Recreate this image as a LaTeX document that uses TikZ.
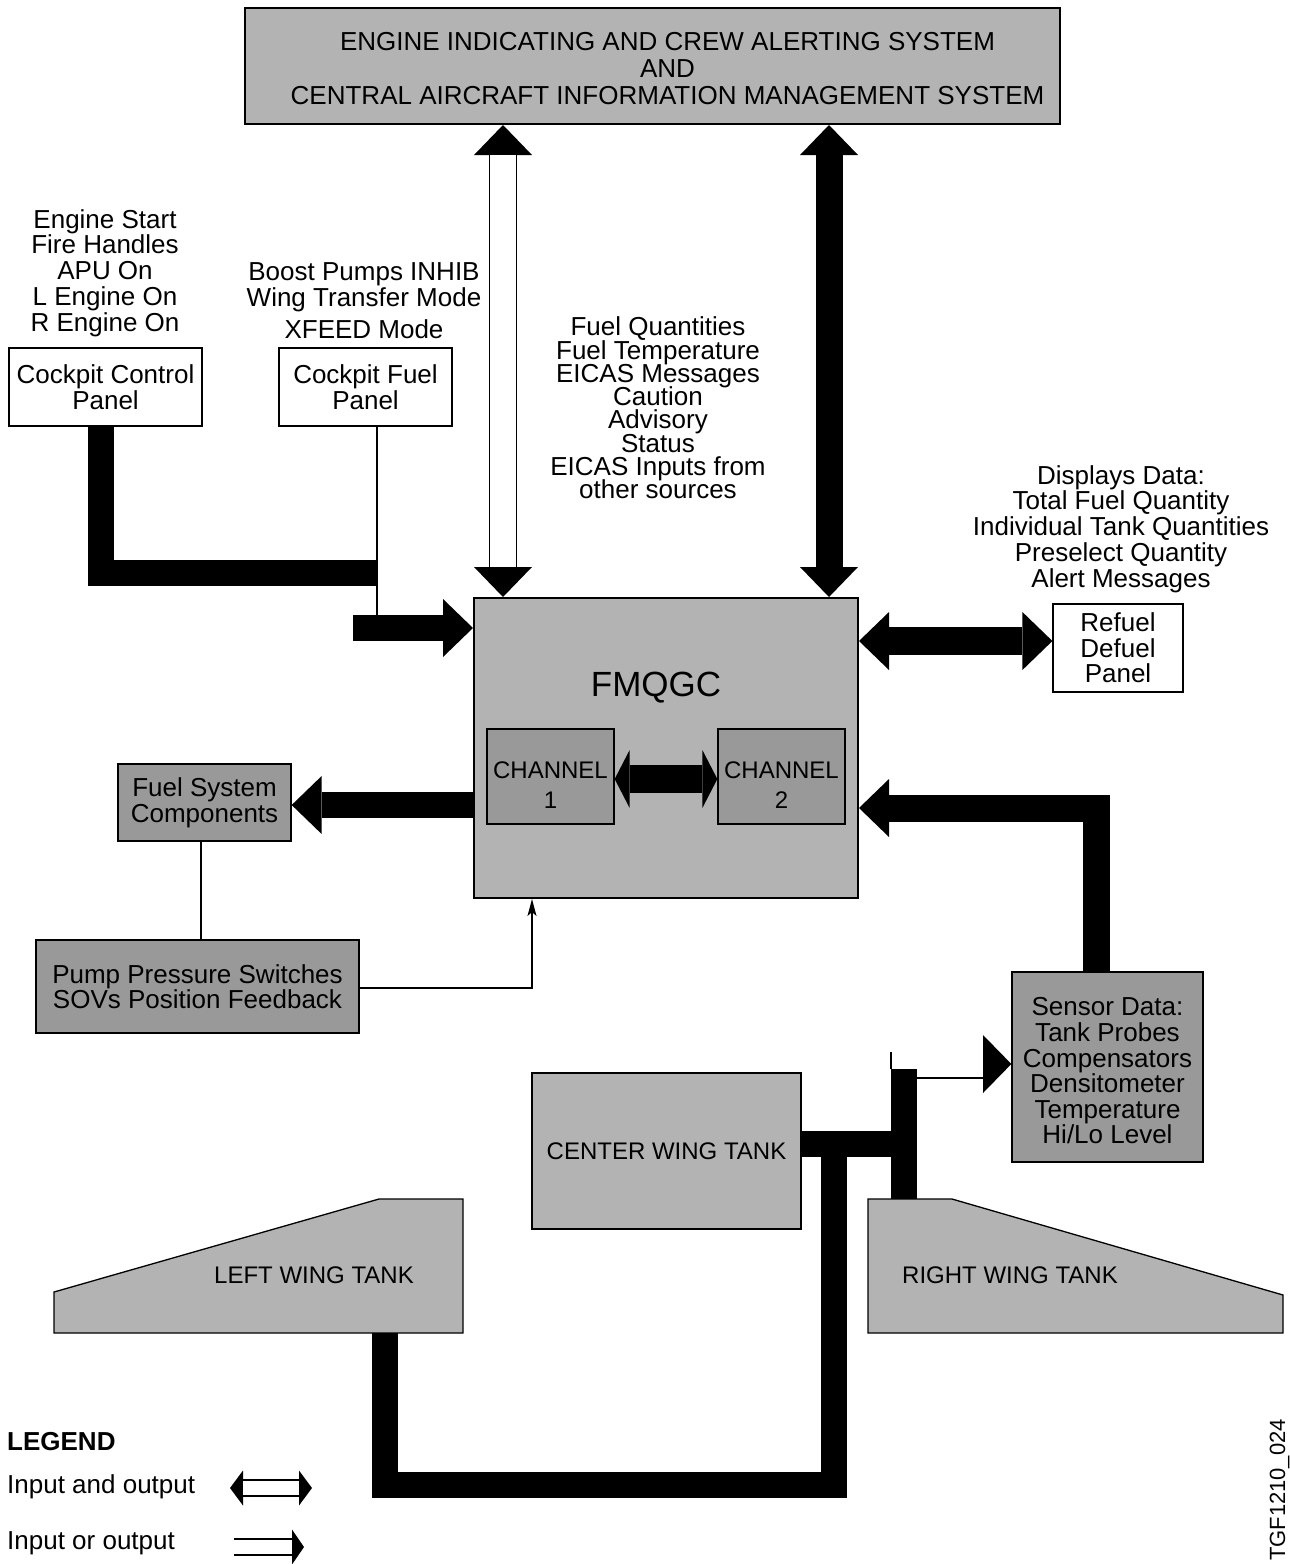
\documentclass[tikz,border=0pt]{standalone}
\usepackage{fontspec}
\setmainfont{Liberation Sans}
\usetikzlibrary{arrows.meta,positioning}
\definecolor{boxgray}{RGB}{179,179,179}
\definecolor{unitgray}{RGB}{153,153,153}
\newcommand{\tightlist}{\fontsize{26}{23.3}\selectfont\lineskiplimit=-100pt}

\begin{document}
\begin{tikzpicture}[x=1pt, y=-1pt, every node/.style={font=\fontsize{26}{26}\selectfont},
		txt/.style={align=center, inner sep=0pt},
		lightbox/.style={draw, line width=1.3pt, fill=boxgray, inner sep=0pt, align=center},
		darkbox/.style={draw, line width=1.3pt, fill=unitgray, inner sep=0pt, align=center},
		whitebox/.style={draw, line width=1.2pt, fill=white, inner sep=0pt, align=center},
		pipe/.style={line width=26pt, line join=miter},
		wire/.style={line width=1.2pt},
		onearrow/.style={line width=26pt, line join=miter, -{Triangle[length=30pt, width=58pt, line width=0pt]}},
		twoarrow/.style={line width=27pt, {Triangle[length=30pt, width=58pt, line width=0pt]}-{Triangle[length=30pt, width=58pt, line width=0pt]}},
		chanarrow/.style={line width=28pt, {Triangle[length=15pt, width=58pt, line width=0pt]}-{Triangle[length=15pt, width=58pt, line width=0pt]}},
		hollowfill/.style={white, line width=25.4pt, shorten <=30pt, shorten >=30pt},
		legtwo/.style={line width=17.5pt, {Triangle[length=13pt, width=35pt, line width=0pt]}-{Triangle[length=13pt, width=35pt, line width=0pt]}},
		legone/.style={line width=17.5pt, -{Triangle[length=12pt, width=35pt, line width=0pt]}}]
	\useasboundingbox (0,0) rectangle (1290,1564);

	\node[lightbox, line width=2pt, minimum width=815pt, minimum height=116pt,
		label={[txt, font=\fontsize{26}{27}\selectfont, xshift=15pt, yshift=-3pt]center:ENGINE INDICATING AND CREW ALERTING SYSTEM\\AND\\CENTRAL AIRCRAFT INFORMATION MANAGEMENT SYSTEM}] (eicas) at (652.5,66) {};
	\node[lightbox, line width=2pt, minimum width=384pt, minimum height=300pt] (fmqgc) at (666,748) {};
	\node[txt, font=\fontsize{35}{35}\selectfont] (fmqgctitle) at (656,688) {FMQGC};
	\node[darkbox, minimum width=127pt, minimum height=95pt,
		label={[txt, font=\fontsize{24}{30}\selectfont, yshift=-9pt]center:CHANNEL\\1}] (ch1) at (550.5,776.5) {};
	\node[darkbox, minimum width=127pt, minimum height=95pt,
		label={[txt, font=\fontsize{24}{30}\selectfont, yshift=-9pt]center:CHANNEL\\2}] (ch2) at (781.5,776.5) {};

	\node[txt, font=\fontsize{26}{25.8}\selectfont] (enginelist) at (105,273) {Engine Start\\Fire Handles\\APU On\\L Engine On\\R Engine On};
	\node[txt] (boostlist) at (364,301) {Boost Pumps INHIB\\Wing Transfer Mode\\[6pt]XFEED Mode};
	\node[whitebox, minimum width=193pt, minimum height=78pt] (ccp) at (105.5,387) {Cockpit Control\\Panel};
	\node[whitebox, minimum width=173pt, minimum height=78pt] (cfp) at (365.5,387) {Cockpit Fuel\\Panel};
	\node[txt, font=\tightlist] (eicaslist) at (658,408) {Fuel Quantities\\Fuel Temperature\\EICAS Messages\\Caution\\Advisory\\Status\\EICAS Inputs from\\other sources};
	\node[txt, font=\fontsize{26}{25.8}\selectfont] (displaylist) at (1121,529) {Displays Data:\\Total Fuel Quantity\\Individual Tank Quantities\\Preselect Quantity\\Alert Messages};
	\node[whitebox, minimum width=130pt, minimum height=88pt, font=\fontsize{26}{25.5}\selectfont] (refuel) at (1118,648) {Refuel\\Defuel\\Panel};
	\node[darkbox, minimum width=173pt, minimum height=77pt] (fsc) at (204.5,802.5) {Fuel System\\Components};
	\node[darkbox, minimum width=323pt, minimum height=93pt, font=\fontsize{26}{24}\selectfont] (pump) at (197.5,986.5) {Pump Pressure Switches\\SOVs Position Feedback};
	\node[darkbox, minimum width=191pt, minimum height=190pt, font=\fontsize{26}{25.6}\selectfont,
		label={[txt, font=\fontsize{26}{25.6}\selectfont, yshift=-4pt]center:Sensor Data:\\Tank Probes\\Compensators\\Densitometer\\Temperature\\Hi/Lo Level}] (sensor) at (1107.5,1067) {};
	\node[lightbox, minimum width=269pt, minimum height=156pt, font=\fontsize{24}{24}\selectfont] (cwt) at (666.5,1151) {CENTER WING TANK};

	\filldraw[fill=boxgray, line width=1.3pt] (54,1292) -- (379,1199) -- (463,1199) -- (463,1333) -- (54,1333) -- cycle;
	\node[txt, font=\fontsize{24}{24}\selectfont] (lwt) at (314,1275) {LEFT WING TANK};
	\filldraw[fill=boxgray, line width=1.3pt] (868,1199) -- (952,1199) -- (1283,1295) -- (1283,1333) -- (868,1333) -- cycle;
	\node[txt, font=\fontsize{24}{24}\selectfont] (rwt) at (1010,1275) {RIGHT WING TANK};

	\coordinate (cpjoin) at (377,573);
	\coordinate (cpin) at (353,628);
	\draw[pipe] ([xshift=-5pt]ccp.south) |- (cpjoin);
	\draw[wire] (cfp.south -| cpjoin) -- (cpjoin |- cpin);
	\draw[onearrow] (cpin) -- (cpin -| fmqgc.west);

	\coordinate (hollowx) at (503,0);
	\coordinate (solidx) at (829,0);
	\draw[twoarrow, line width=28pt] (eicas.south -| hollowx) -- (fmqgc.north -| hollowx);
	\draw[hollowfill] (eicas.south -| hollowx) -- (fmqgc.north -| hollowx);
	\draw[twoarrow] (eicas.south -| solidx) -- (fmqgc.north -| solidx);

	\coordinate (refuely) at (0,641);
	\draw[twoarrow, line width=28pt] (fmqgc.east |- refuely) -- (refuel.west |- refuely);
	\coordinate (chany) at (0,779);
	\draw[chanarrow] (ch1.east |- chany) -- (ch2.west |- chany);

	\coordinate (fscy) at (0,805);
	\coordinate (fscx) at (201,0);
	\coordinate (pumpy) at (0,988);
	\coordinate (pumpx) at (532,0);
	\draw[onearrow] (fmqgc.west |- fscy) -- (fsc.east |- fscy);
	\draw[wire] (fsc.south -| fscx) -- (pump.north -| fscx);
	\draw[wire, -{Stealth[length=17pt, width=9pt, inset=4pt]}] (pump.east |- pumpy) -| (fmqgc.south -| pumpx);

	\coordinate (sensorx) at (1096,0);
	\coordinate (sensory) at (0,808);
	\draw[onearrow, line width=27pt] (sensor.north -| sensorx) |- (fmqgc.east |- sensory);

	\coordinate (cwty) at (0,1144);
	\coordinate (risetop) at (904,1069);
	\coordinate (rwtpipe) at (904,1199);
	\coordinate (ticktop) at (891,1052);
	\coordinate (probeout) at (917,1078);
	\coordinate (probehead) at (983,1078);
	\coordinate (probey) at (0,1064);
	\draw[pipe] (risetop) -- (rwtpipe);
	\draw[pipe] (cwt.east |- cwty) -- (risetop |- cwty);
	\draw[wire] (ticktop) -- (ticktop |- risetop);
	\draw[wire] (probeout) -- (probehead);
	\fill (983,1035) -- (sensor.west |- probey) -- (983,1093) -- cycle;

	\coordinate (lwtpipe) at (385,1333);
	\coordinate (cwtdrop) at (834,1485);
	\draw[pipe] (lwtpipe) |- (cwtdrop) -- (cwtdrop |- cwty);

	\node[txt, anchor=west, font=\bfseries\fontsize{26}{26}\selectfont] (legendtitle) at (7,1442) {LEGEND};
	\node[txt, anchor=west] (legboth) at (7,1487) {Input and output};
	\node[txt, anchor=west] (legsingle) at (7,1543) {Input or output};
	\coordinate (legbothL) at (230,1488);
	\coordinate (legbothR) at (312,1488);
	\coordinate (legsingleL) at (234,1547);
	\coordinate (legsingleR) at (304,1547);
	\draw[legtwo] (legbothL) -- (legbothR);
	\draw[white, line width=14.5pt, shorten <=13pt, shorten >=13pt] (legbothL) -- (legbothR);
	\draw[legone] (legsingleL) -- (legsingleR);
	\draw[white, line width=14.5pt, shorten >=12pt] (legsingleL) -- (legsingleR);

	\node[rotate=90, anchor=base, font=\fontsize{22}{22}\selectfont, inner sep=0pt] (figid) at (1285,1490) {TGF1210\_024};
\end{tikzpicture}
\end{document}
